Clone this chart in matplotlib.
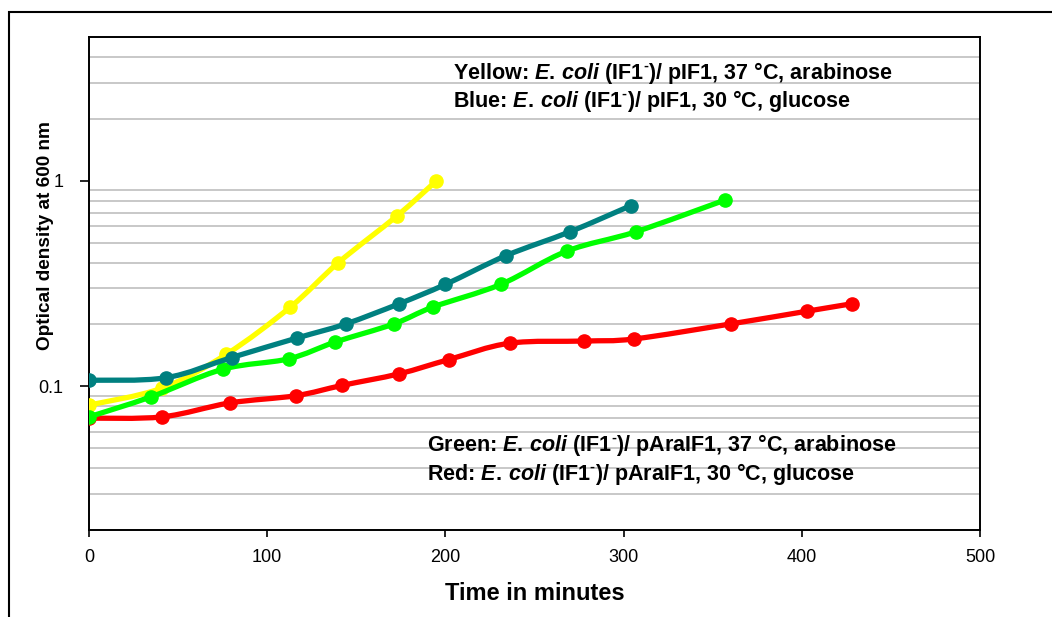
"""
Growth curves of E. coli (IF1-) strains, optical density on a log axis.
Saves out.png.
"""
import matplotlib
matplotlib.use("Agg")
import matplotlib.pyplot as plt
import numpy as np
from matplotlib.path import Path
from matplotlib.patches import PathPatch, Rectangle
from matplotlib.ticker import FixedLocator, FixedFormatter, LogLocator, NullFormatter

plt.rcParams["font.family"] = "Liberation Sans"
plt.rcParams["mathtext.fontset"] = "custom"
plt.rcParams["mathtext.rm"] = "Liberation Sans:bold"
plt.rcParams["mathtext.bf"] = "Liberation Sans:bold"
plt.rcParams["mathtext.it"] = "Liberation Sans:italic:bold"

# data (time in minutes, OD600)
yellow_t = [0, 41, 77, 113, 140, 173, 195]
yellow_od = [0.081, 0.098, 0.143, 0.243, 0.40, 0.676, 1.0]
blue_t = [0, 43, 80, 117, 144, 174, 200, 234, 270, 304]
blue_od = [0.107, 0.110, 0.138, 0.172, 0.201, 0.252, 0.313, 0.432, 0.565, 0.756]
green_t = [0, 35, 75, 112, 138, 171, 193, 231, 268, 307, 357]
green_od = [0.071, 0.089, 0.121, 0.136, 0.164, 0.201, 0.243, 0.313, 0.454, 0.565, 0.806]
red_t = [0, 41, 79, 116, 142, 174, 202, 236, 278, 306, 360, 403, 428]
red_od = [0.070, 0.071, 0.083, 0.090, 0.101, 0.115, 0.135, 0.162, 0.166, 0.170, 0.201, 0.232, 0.252]

x_ticks = [0, 100, 200, 300, 400, 500]
y_ticks = [0.1, 1]
y_ticklabels = ["0.1", "1"]

ecoli = r"$\mathit{E.\,coli}$ (IF1$^{\text{-}}$)/"
notes_top = [f"Yellow: {ecoli} pIF1, 37 °C, arabinose",
             f"Blue: {ecoli} pIF1, 30 °C, glucose"]
notes_bottom = [f"Green: {ecoli} pAraIF1, 37 °C, arabinose",
                f"Red: {ecoli} pAraIF1, 30 °C, glucose"]


def smooth_path(t, od):
    """Excel-like smoothed line: cubic Bezier through each point, built in (t, log od)."""
    pts = np.column_stack([np.asarray(t, float), np.log10(od)])
    n = len(pts)
    verts, codes = [pts[0]], [Path.MOVETO]
    for i in range(n - 1):
        p0 = pts[max(i - 1, 0)]
        p1, p2 = pts[i], pts[i + 1]
        p3 = pts[min(i + 2, n - 1)]
        verts += [p1 + (p2 - p0) / 6, p2 - (p3 - p1) / 6, p2]
        codes += [Path.CURVE4] * 3
    verts = np.array(verts)
    verts[:, 1] = 10 ** verts[:, 1]
    return Path(verts, codes)


W, H = 1052, 617
fig = plt.figure(figsize=(W / 100, H / 100), dpi=100)
ax = fig.add_axes([89 / W, 1 - 530 / H, 891 / W, 493 / H])
ax.set_yscale("log")
ax.set_xlim(0, 500)
ax.set_ylim(0.02, 5)

series = [(red_t, red_od, "#ff0000"), (yellow_t, yellow_od, "#ffff00"),
          (green_t, green_od, "#00ff00"), (blue_t, blue_od, "#008080")]
for k, (t, od, c) in enumerate(series):
    ax.add_patch(PathPatch(smooth_path(t, od), fill=False, edgecolor=c, lw=3.8,
                           capstyle="round", joinstyle="round", zorder=3 + k))
    ax.plot(t, od, "o", color=c, ms=9.5, mec=c, zorder=3 + k)

ax.xaxis.set_major_locator(FixedLocator(x_ticks))
ax.yaxis.set_major_locator(FixedLocator(y_ticks))
ax.yaxis.set_major_formatter(FixedFormatter(y_ticklabels))
ax.yaxis.set_minor_locator(LogLocator(base=10, subs=np.arange(2, 10), numticks=20))
ax.yaxis.set_minor_formatter(NullFormatter())
ax.yaxis.grid(True, which="minor", color="#c4c4c4", lw=1.3)
ax.yaxis.grid(False, which="major")
ax.tick_params(axis="y", which="minor", length=0)
ax.tick_params(axis="y", which="major", length=6.5, width=1.2, pad=12, labelsize=13)
ax.tick_params(axis="x", length=5, width=1.2, pad=9, labelsize=13)
for s in ax.spines.values():
    s.set_linewidth(1.4)

ax.set_xlabel("Time in minutes", fontsize=17, fontweight="bold")
ax.xaxis.set_label_coords(0.5, -0.105)
ax.set_ylabel("Optical density at 600 nm", fontsize=13.7, fontweight="bold")
ax.yaxis.set_label_coords(-0.039, 0.598)

for i, s in enumerate(notes_top):
    ax.text((453 - 89) / 891, (530 - (79 + 28 * i)) / 493, s,
            transform=ax.transAxes, fontsize=15.5, fontweight="bold", va="baseline")
for i, s in enumerate(notes_bottom):
    ax.text((427 - 89) / 891, (530 - (451 + 29 * i)) / 493, s,
            transform=ax.transAxes, fontsize=15.5, fontweight="bold", va="baseline")

# outer chart-area frame (only its top and left edges fall inside the image)
fig.add_artist(Rectangle((9 / W, -0.2), 1.5, 1.2 - 12 / H, transform=fig.transFigure,
                         fill=False, lw=1.5, edgecolor="black"))

fig.savefig("out.png", dpi=100)
